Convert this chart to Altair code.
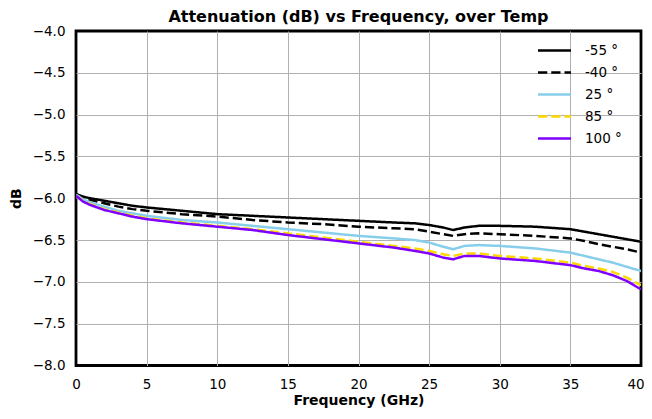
import altair as alt
import pandas as pd

freq = [0, 0.5, 1, 2, 3, 4, 5, 7.5, 10, 12.5, 15, 17.5, 20, 22.5, 24, 25, 26, 26.7,
        27.5, 28.5, 30, 32.5, 35, 36, 37, 38, 39, 40]

t_m55 = [-5.95, -5.98, -6.00, -6.03, -6.06, -6.09, -6.11, -6.15, -6.19, -6.21, -6.23, -6.25,
         -6.27, -6.29, -6.30, -6.32, -6.35, -6.38, -6.35, -6.33, -6.33, -6.34, -6.37, -6.40,
         -6.43, -6.46, -6.49, -6.52]
t_m40 = [-5.96, -5.99, -6.02, -6.06, -6.10, -6.13, -6.15, -6.19, -6.22, -6.26, -6.29, -6.31,
         -6.34, -6.36, -6.37, -6.40, -6.43, -6.45, -6.43, -6.42, -6.43, -6.45, -6.48, -6.51,
         -6.55, -6.58, -6.61, -6.65]
t_25 = [-5.96, -6.01, -6.05, -6.10, -6.15, -6.18, -6.21, -6.26, -6.29, -6.33, -6.37, -6.41,
        -6.45, -6.48, -6.50, -6.53, -6.58, -6.61, -6.57, -6.56, -6.57, -6.60, -6.65, -6.69,
        -6.73, -6.77, -6.82, -6.87]
t_85 = [-5.97, -6.03, -6.07, -6.13, -6.17, -6.21, -6.24, -6.29, -6.33, -6.37, -6.42, -6.47,
        -6.52, -6.57, -6.60, -6.63, -6.67, -6.69, -6.66, -6.66, -6.69, -6.72, -6.77, -6.81,
        -6.84, -6.88, -6.95, -7.04]
t_100 = [-5.97, -6.04, -6.08, -6.14, -6.18, -6.22, -6.25, -6.30, -6.34, -6.38, -6.44, -6.49,
         -6.54, -6.59, -6.63, -6.66, -6.71, -6.73, -6.69, -6.69, -6.72, -6.75, -6.80, -6.84,
         -6.87, -6.92, -6.99, -7.09]

temps = ["-55 °", "-40 °", "25 °", "85 °", "100 °"]
series = [t_m55, t_m40, t_25, t_85, t_100]
colors = ["#000000", "#000000", "#87ceeb", "#ffd700", "#7f00ff"]
dashes = [[1, 0], [9.25, 4], [1, 0], [9.25, 4], [1, 0]]

x_ticks = [0, 5, 10, 15, 20, 25, 30, 35, 40]
y_ticks = [-8.0, -7.5, -7.0, -6.5, -6.0, -5.5, -5.0, -4.5, -4.0]

rows = []
for k, (lab, vals) in enumerate(zip(temps, series)):
    for i, (f, v) in enumerate(zip(freq, vals)):
        rows.append({"freq": f, "db": v, "temp": lab, "k": k, "i": i})
df = pd.DataFrame(rows)

FONT = "DejaVu Sans"
grid_x = {"condition": {"test": "datum.value == 0 || datum.value == 40", "value": "transparent"},
          "value": "#b0b0b0"}
grid_y = {"condition": {"test": "datum.value == -8 || datum.value == -4", "value": "transparent"},
          "value": "#b0b0b0"}
last_label_shift = {"condition": {"test": "datum.value == 40", "value": -5.5}, "value": 0}

chart = alt.Chart(df).mark_line(strokeWidth=2.5, clip=True).encode(
    x=alt.X("freq:Q", scale=alt.Scale(domain=[0, 40], nice=False, zero=False),
            axis=alt.Axis(values=x_ticks, title="Frequency (GHz)", ticks=False, domain=False,
                          labelPadding=12, titlePadding=2, gridColor=grid_x, gridWidth=1,
                          labelFlush=False, labelOffset=last_label_shift)),
    y=alt.Y("db:Q", scale=alt.Scale(domain=[-8, -4], nice=False, zero=False),
            axis=alt.Axis(values=y_ticks, format=".1f", title="dB", ticks=False, domain=False,
                          labelPadding=11, titlePadding=9, gridColor=grid_y, gridWidth=1,
                          labelFlush=False)),
    color=alt.Color("temp:N", sort=temps, scale=alt.Scale(domain=temps, range=colors),
                    legend=alt.Legend(title=None)),
    strokeDash=alt.StrokeDash("temp:N", sort=temps, scale=alt.Scale(domain=temps, range=dashes),
                              legend=alt.Legend(title=None)),
    order=alt.Order("i:Q"),
).properties(
    width=565,
    height=334.5,
    title=alt.TitleParams("Attenuation (dB) vs Frequency, over Temp", font=FONT, fontSize=16,
                          fontWeight="bold", anchor="middle", offset=-1, color="black"),
    autosize=alt.AutoSizeParams(type="none"),
    padding={"left": 68, "top": 23, "right": 3, "bottom": 45},
).configure_view(
    stroke="black", strokeWidth=2.8
).configure_axis(
    labelFont=FONT, labelFontSize=13.5, labelColor="black",
    titleFont=FONT, titleFontSize=14, titleFontWeight="bold", titleColor="black",
).configure_legend(
    orient="none", legendX=469, legendY=10, padding=0,
    symbolType="M-2,0H2", symbolSize=272, symbolStrokeWidth=2.5,
    labelFont=FONT, labelFontSize=13.5, labelColor="black", labelOffset=21,
    rowPadding=6,
)

chart.save("out.html", embed_options={"renderer": "svg", "actions": False})
